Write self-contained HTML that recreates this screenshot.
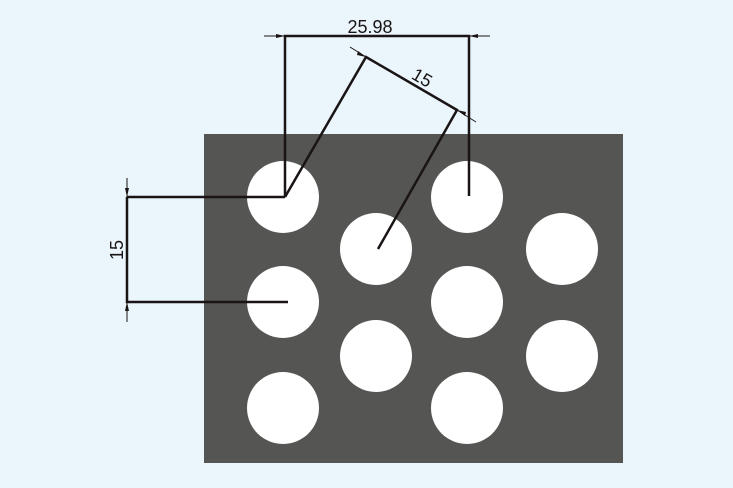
<!DOCTYPE html>
<html><head><style>html,body{margin:0;padding:0;background:#eaf5fc;}</style></head>
<body>
<svg width="733" height="488" xmlns="http://www.w3.org/2000/svg" style="display:block">
<rect width="733" height="488" fill="#eaf5fc"/>
<rect x="204" y="134" width="419" height="329" fill="#555553"/>
<g fill="#fff">
<circle cx="283" cy="197" r="36"/><circle cx="283" cy="302" r="36"/><circle cx="283" cy="408" r="36"/>
<circle cx="376" cy="249" r="36"/><circle cx="376" cy="356" r="36"/>
<circle cx="467" cy="197" r="36"/><circle cx="467" cy="302" r="36"/><circle cx="467" cy="408" r="36"/>
<circle cx="562" cy="249" r="36"/><circle cx="562" cy="356" r="36"/>
</g>
<g stroke="#1a1414" stroke-width="2.5" fill="none">
<polyline points="285,197 285,36 469,36 469,196"/>
<polyline points="285,197 366,57 457,110 378,249"/>
<polyline points="127,197 285,197"/>
<polyline points="127,197 127,302 288,302"/>
</g>
<g stroke="#1a1414" stroke-width="1" fill="none">
<line x1="264" y1="36" x2="285" y2="36"/><line x1="469" y1="36" x2="490" y2="36"/>
<line x1="350" y1="47" x2="366" y2="57"/><line x1="457" y1="110" x2="476" y2="122"/>
<line x1="127" y1="178" x2="127" y2="197"/><line x1="127" y1="302" x2="127" y2="322"/>
</g>
<g fill="#1a1414">
<polygon points="285,36 276,34 276,38"/><polygon points="469,36 478,34 478,38"/>
<polygon points="366,57 358,51 357,55"/><polygon points="457,110 465,116 466,112"/>
<polygon points="127,197 125,188 129,188"/><polygon points="127,302 125,311 129,311"/>
</g>
<g font-family="Liberation Sans, sans-serif" font-size="18" fill="#1a1414">
<text x="370" y="33" text-anchor="middle">25.98</text>
<text x="0" y="0" text-anchor="middle" transform="translate(419,83) rotate(30)">15</text>
<text x="0" y="0" text-anchor="middle" transform="translate(123,250) rotate(-90)">15</text>
</g>
</svg>
</body></html>
